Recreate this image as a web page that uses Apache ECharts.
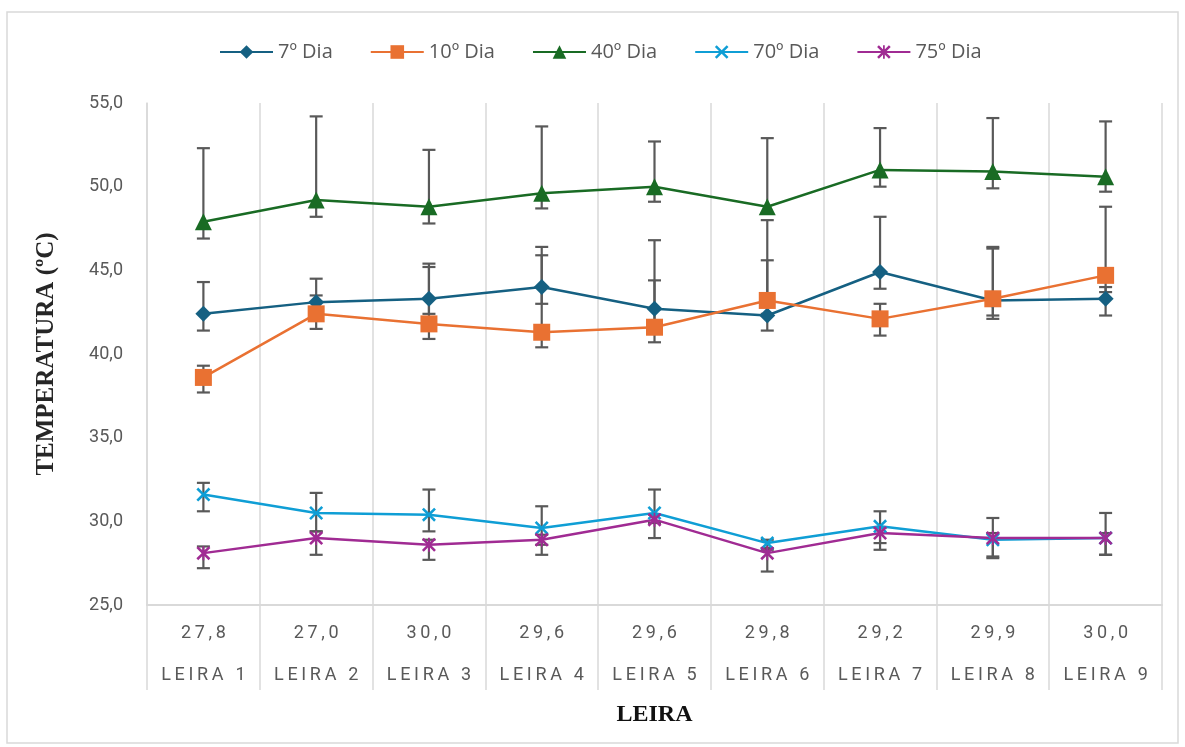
<!DOCTYPE html>
<html>
<head>
	<meta charset="utf-8">
	<title></title>
	<style type="text/css">
		html, body {
			margin: 0;
			padding: 0;
			background: #fff;
		}
		#main {
			width: 1185px;
			height: 747px;
		}
	</style>
	<script src='https://cdn.jsdelivr.net/npm/echarts@6/dist/echarts.min.js'></script>
</head>
<body>

	<div id="main"></div>

	<script type="text/javascript">
		// categories and the values printed under them
		var leiras = ['LEIRA 1', 'LEIRA 2', 'LEIRA 3', 'LEIRA 4', 'LEIRA 5', 'LEIRA 6', 'LEIRA 7', 'LEIRA 8', 'LEIRA 9'];
		var tempAmb = ['27,8', '27,0', '30,0', '29,6', '29,6', '29,8', '29,2', '29,9', '30,0'];

		var names = ['7º Dia', '10º Dia', '40º Dia', '70º Dia', '75º Dia'];

		// means
		var dia7 = [42.4, 43.1, 43.3, 44.0, 42.7, 42.3, 44.9, 43.2, 43.3];
		var dia10 = [38.6, 42.4, 41.8, 41.3, 41.6, 43.2, 42.1, 43.3, 44.7];
		var dia40 = [47.9, 49.2, 48.8, 49.6, 50.0, 48.8, 51.0, 50.9, 50.6];
		var dia70 = [31.6, 30.5, 30.4, 29.6, 30.5, 28.7, 29.7, 28.9, 29.0];
		var dia75 = [28.1, 29.0, 28.6, 28.9, 30.1, 28.1, 29.3, 29.0, 29.0];

		// error bar ends (top / bottom)
		var dia7Hi = [44.3, 44.5, 45.4, 46.4, 46.8, 45.6, 48.2, 46.3, 44.0];
		var dia7Lo = [41.4, 42.2, 42.4, 43.0, 41.9, 41.4, 43.9, 42.1, 42.3];
		var dia10Hi = [39.3, 43.5, 45.2, 45.9, 44.4, 48.0, 43.0, 46.4, 48.8];
		var dia10Lo = [37.7, 41.5, 40.9, 40.4, 40.7, 42.4, 41.1, 42.3, 43.7];
		var dia40Hi = [52.3, 54.2, 52.2, 53.6, 52.7, 52.9, 53.5, 54.1, 53.9];
		var dia40Lo = [46.9, 48.2, 47.8, 48.7, 49.1, 48.4, 50.0, 49.9, 49.7];
		var dia70Hi = [32.3, 31.7, 31.9, 30.9, 31.9, 28.9, 30.6, 30.2, 30.5];
		var dia70Lo = [30.6, 29.4, 29.4, 28.6, 29.9, 28.3, 28.7, 27.8, 28.0];
		var dia75Hi = [28.5, 29.4, 28.9, 29.2, 30.4, 28.4, 29.6, 29.3, 29.3];
		var dia75Lo = [27.2, 28.0, 27.7, 28.0, 29.0, 27.0, 28.3, 27.9, 28.0];

		var colors = ['#156082', '#E97132', '#196B24', '#0F9ED5', '#A02B93'];

		var xSymbol = 'path://M0,1.3L1.3,0L5,3.7L8.7,0L10,1.3L6.3,5L10,8.7L8.7,10L5,6.3L1.3,10L0,8.7L3.7,5Z';
		var starSymbol = 'path://M0,1.3L1.3,0L5,3.7L8.7,0L10,1.3L6.3,5L10,8.7L8.7,10L5,6.3L1.3,10L0,8.7L3.7,5ZM4.35,0L5.65,0L5.65,10L4.35,10Z';

		function spaced(s) {
			return s.split('').join('\u2009');
		}

		function errBars(hi, lo) {
			var d = [];
			for (var i = 0; i < hi.length; i++) {
				d.push([i, hi[i], lo[i]]);
			}
			return d;
		}

		function renderErr(params, api) {
			var top = api.coord([api.value(0), api.value(1)]);
			var bot = api.coord([api.value(0), api.value(2)]);
			var w = 6.5;
			var st = { stroke: '#595959', lineWidth: 2.2 };
			return {
				type: 'group',
				children: [
					{ type: 'line', shape: { x1: top[0], y1: top[1], x2: bot[0], y2: bot[1] }, style: st },
					{ type: 'line', shape: { x1: top[0] - w, y1: top[1], x2: top[0] + w, y2: top[1] }, style: st },
					{ type: 'line', shape: { x1: bot[0] - w, y1: bot[1], x2: bot[0] + w, y2: bot[1] }, style: st }
				]
			};
		}

		var means = [dia7, dia10, dia40, dia70, dia75];
		var his = [dia7Hi, dia10Hi, dia40Hi, dia70Hi, dia75Hi];
		var los = [dia7Lo, dia10Lo, dia40Lo, dia70Lo, dia75Lo];
		var symbols = ['diamond', 'rect', 'triangle', xSymbol, starSymbol];
		var sizes = [16, 17, 17, 14, 14];

		var series = [];
		for (var k = 0; k < names.length; k++) {
			series.push({
				type: 'custom',
				renderItem: renderErr,
				data: errBars(his[k], los[k]),
				encode: { x: 0, y: [1, 2] },
				z: 1,
				silent: true
			});
		}
		for (var k = 0; k < names.length; k++) {
			series.push({
				name: names[k],
				type: 'line',
				data: means[k],
				symbol: symbols[k],
				symbolSize: sizes[k],
				showAllSymbol: true,
				z: 3,
				lineStyle: { color: colors[k], width: 2.5 },
				itemStyle: { color: colors[k] }
			});
		}

		var chart = echarts.init(document.getElementById('main'));
		var option = {
			animation: false,
			color: colors,
			graphic: [{
				type: 'rect',
				shape: { x: 7, y: 12, width: 1171, height: 731 },
				style: { fill: 'none', stroke: '#d9d9d9', lineWidth: 1.5 },
				silent: true
			}],
			legend: {
				data: names,
				left: 214,
				top: 37,
				itemWidth: 53,
				itemHeight: 17,
				itemGap: 37,
				textStyle: { color: '#595959', fontSize: 20, fontFamily: 'Open Sans' }
			},
			grid: {
				left: 147,
				right: 23,
				top: 103,
				bottom: 142,
				containLabel: false
			},
			xAxis: {
				type: 'category',
				data: leiras,
				boundaryGap: true,
				name: 'LEIRA',
				nameLocation: 'middle',
				nameGap: 98,
				nameTextStyle: { color: '#111', fontSize: 24, fontWeight: 'bold', fontFamily: 'Liberation Serif' },
				axisLine: { lineStyle: { color: '#d9d9d9', width: 2 } },
				axisTick: { show: true, interval: 0, length: 85, lineStyle: { color: '#d9d9d9', width: 1.5 } },
				splitLine: { show: true, interval: 0, lineStyle: { color: '#d9d9d9', width: 1.5 } },
				axisLabel: {
					interval: 0,
					margin: 7,
					color: '#595959',
					fontSize: 18,
					fontFamily: 'Roboto',
					lineHeight: 42,
					formatter: function (v, i) {
						return spaced(tempAmb[i]) + '\n' + spaced(v);
					}
				}
			},
			yAxis: {
				type: 'value',
				min: 25,
				max: 55,
				interval: 5,
				name: 'TEMPERATURA (ºC)',
				nameLocation: 'middle',
				nameRotate: 90,
				nameGap: 88,
				nameTextStyle: { color: '#262626', fontSize: 25, fontWeight: 'bold', fontFamily: 'Liberation Serif' },
				axisLine: { show: true, lineStyle: { color: '#d9d9d9', width: 1.5 } },
				axisTick: { show: false },
				splitLine: { show: false },
				axisLabel: {
					margin: 24,
					color: '#595959',
					fontSize: 18,
					fontFamily: 'Roboto',
					formatter: function (v) { return v.toFixed(1).replace('.', ','); }
				}
			},
			series: series
		};

		chart.setOption(option);
	</script>
</body>
</html>
